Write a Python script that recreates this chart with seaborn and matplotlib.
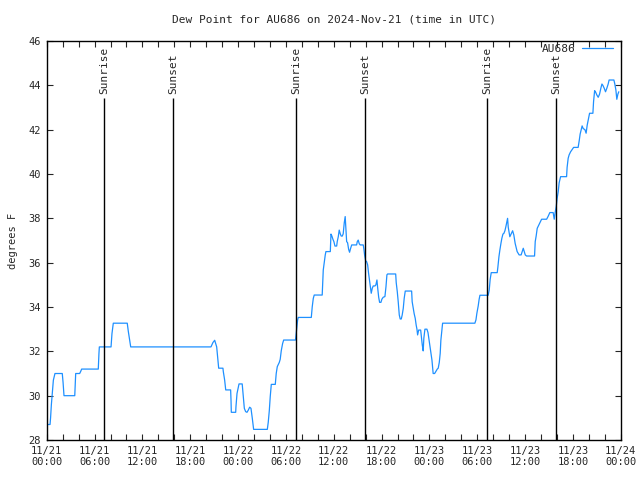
import pandas as pd
import matplotlib
matplotlib.use("Agg")
import matplotlib.pyplot as plt
import matplotlib.dates as mdates
import seaborn as sns

# -------------------------------
# 1. DATA (minutes after 2024-11-21 00:00 UTC, dew point in F)
# -------------------------------
station = "AU686"
minutes = [
    0, 25, 29, 35, 42, 50, 62, 117, 123, 130, 211, 218, 248, 256, 263, 388, 393, 396,
    484, 491, 501, 606, 614, 632, 1236, 1251, 1264, 1279, 1294, 1326, 1329, 1339, 1347,
    1384, 1387, 1389, 1422, 1424, 1432, 1439, 1447, 1471, 1487, 1497, 1507, 1517, 1527,
    1537, 1547, 1557, 1660, 1667, 1675, 1682, 1690, 1720, 1727, 1735, 1742, 1750, 1757,
    1765, 1775, 1783, 1872, 1881, 1888, 1893, 1991, 1998, 2006, 2013, 2073, 2081, 2088,
    2096, 2101, 2134, 2139, 2146, 2154, 2161, 2169, 2182, 2186, 2194, 2201, 2209, 2216,
    2224, 2231, 2239, 2246, 2252, 2257, 2264, 2272, 2279, 2287, 2295, 2332, 2337, 2344,
    2352, 2359, 2382, 2387, 2392, 2400, 2407, 2415, 2422, 2430, 2437, 2442, 2450, 2457,
    2470, 2477, 2485, 2490, 2498, 2505, 2515, 2522, 2532, 2545, 2553, 2560, 2565, 2626,
    2630, 2638, 2645, 2653, 2660, 2668, 2675, 2683, 2690, 2698, 2746, 2750, 2758, 2765,
    2773, 2780, 2786, 2791, 2799, 2814, 2818, 2826, 2833, 2838, 2846, 2861, 2869, 2876,
    2884, 2891, 2899, 2904, 2908, 2919, 2929, 2939, 2946, 2954, 2961, 2966, 2974, 2979,
    3222, 3230, 3237, 3247, 3254, 3260, 3322, 3330, 3337, 3345, 3390, 3395, 3403, 3410,
    3418, 3425, 3433, 3440, 3448, 3455, 3463, 3468, 3473, 3485, 3506, 3515, 3525, 3540,
    3555, 3570, 3586, 3601, 3611, 3671, 3676, 3683, 3691, 3711, 3724, 3762, 3774, 3786,
    3811, 3819, 3826, 3834, 3841, 3849, 3856, 3867, 3912, 3916, 3924, 3931, 3942, 3965,
    3999, 4007, 4014, 4022, 4029, 4037, 4050, 4059, 4067, 4077, 4085, 4110, 4115, 4123,
    4130, 4140, 4150, 4160, 4170, 4178, 4185, 4195, 4205, 4215, 4225, 4232, 4268, 4275,
    4283, 4290, 4298, 4305,
]
dewpoint = [
    28.7, 28.7, 29.0, 29.6, 30.1, 30.7, 31.0, 31.0, 30.6, 30.0, 30.0, 31.0, 31.0, 31.1, 31.2, 31.2, 31.9, 32.2,
    32.2, 32.8, 33.27, 33.27, 32.9, 32.2, 32.2, 32.4, 32.5, 32.2, 31.24, 31.24, 31.08, 30.7, 30.26,
    30.26, 29.77, 29.25, 29.25, 29.5, 30.1, 30.3, 30.53, 30.53, 29.43, 29.28, 29.25, 29.35, 29.48,
    29.43, 28.98, 28.48, 28.48, 28.8, 29.33, 29.96, 30.51, 30.51, 31.0, 31.31, 31.4, 31.5, 31.64,
    32.03, 32.35, 32.51, 32.51, 33.04, 33.41, 33.53, 33.53, 34.01, 34.39, 34.54, 34.54, 35.67, 36.0,
    36.35, 36.5, 36.5, 37.29, 37.2, 37.05, 36.95, 36.75, 36.75, 36.95, 37.17, 37.47, 37.3, 37.2,
    37.2, 37.3, 37.8, 38.08, 37.5, 36.95, 36.9, 36.6, 36.47, 36.65, 36.8, 36.8, 36.95, 37.02,
    36.85, 36.8, 36.8, 36.6, 36.35, 36.08, 36.05, 35.9, 35.52, 35.17, 34.89, 34.62, 34.85, 34.95,
    34.95, 35.0, 35.22, 34.89, 34.44, 34.21, 34.21, 34.35, 34.44, 34.47, 34.92, 35.45, 35.49, 35.49,
    35.1, 34.69, 34.24, 33.64, 33.46, 33.46, 33.64, 33.94, 34.39, 34.72, 34.72, 34.24, 33.94, 33.7,
    33.49, 33.19, 33.0, 32.74, 32.96, 32.96, 32.74, 32.29, 32.02, 32.6, 33.0, 33.0, 32.85, 32.55,
    32.2, 31.91, 31.6, 31.27, 31.0, 31.0, 31.1, 31.2, 31.24, 31.5, 31.91, 32.5, 32.96, 33.27,
    33.27, 33.42, 33.72, 34.05, 34.35, 34.53, 34.53, 34.77, 35.25, 35.55, 35.55, 35.8, 36.27, 36.57,
    36.87, 37.1, 37.29, 37.32, 37.44, 37.62, 37.85, 38.0, 37.6, 37.17, 37.44, 37.25, 36.87, 36.5,
    36.35, 36.35, 36.65, 36.35, 36.3, 36.3, 36.95, 37.2, 37.55, 37.8, 37.96, 37.96, 38.1, 38.26,
    38.26, 37.96, 38.26, 38.53, 38.9, 39.2, 39.6, 39.88, 39.88, 40.3, 40.71, 40.86, 41.0, 41.2,
    41.2, 41.5, 41.8, 42.0, 42.17, 42.05, 42.0, 41.84, 42.2, 42.51, 42.74, 42.74, 43.26, 43.76,
    43.7, 43.56, 43.46, 43.6, 43.87, 44.06, 44.0, 43.87, 43.71, 43.87, 44.06, 44.24, 44.24, 44.06,
    43.79, 43.37, 43.6, 43.71,
]

sun_times = ["2024-11-21 07:14", "2024-11-21 15:52", "2024-11-22 07:17",
             "2024-11-22 15:56", "2024-11-23 07:16", "2024-11-23 15:54"]
sun_labels = ["Sunrise", "Sunset", "Sunrise", "Sunset", "Sunrise", "Sunset"]

start = pd.Timestamp("2024-11-21 00:00")
df = pd.DataFrame({
    "time": start + pd.to_timedelta(minutes, unit="min"),
    "dewpoint": dewpoint,
})

# -------------------------------
# 2. PLOT
# -------------------------------
sns.set_style("ticks")
plt.rcParams['font.family'] = ['DejaVu Sans Mono']
plt.rcParams['font.size'] = 7.5

fig = plt.figure(figsize=(6.4, 4.8), dpi=100)
ax = fig.add_axes([0.073, 0.0833, 0.897, 0.8313])

sns.lineplot(data=df, x="time", y="dewpoint", ax=ax, color="#1e90ff",
             linewidth=0.9, label=station)

# sunrise / sunset markers, label sits just above the line
for t, lab in zip(sun_times, sun_labels):
    ts = pd.Timestamp(t)
    ax.vlines(ts, 28, 43.45, color="black", linewidth=1)
    ax.text(ts, 43.62, lab, rotation=90, ha="center", va="bottom", fontsize=8)

ax.set_xlim(start, pd.Timestamp("2024-11-24 00:00"))
ax.set_ylim(28, 46)
ax.set_yticks(range(28, 47, 2))
ax.xaxis.set_major_locator(mdates.HourLocator(byhour=[0, 6, 12, 18]))
ax.xaxis.set_minor_locator(mdates.HourLocator(interval=2))
ax.xaxis.set_major_formatter(mdates.DateFormatter("%m/%d\n%H:%M"))
ax.tick_params(which="both", direction="in", top=True, right=True,
               length=4.5, width=0.8, labelsize=7.5, pad=4)
for s in ax.spines.values():
    s.set_linewidth(1)
    s.set_color("black")

ax.set_xlabel("")
ax.set_ylabel("degrees F", fontsize=7.5, labelpad=8)
ax.set_title("Dew Point for AU686 on 2024-Nov-21 (time in UTC)", fontsize=8, pad=13)

ax.legend(loc="upper right", frameon=False, markerfirst=False, fontsize=8,
          handlelength=2.8, handletextpad=0.6, borderaxespad=0.0,
          bbox_to_anchor=(0.995, 1.004))

plt.savefig("out.png", dpi=100)
